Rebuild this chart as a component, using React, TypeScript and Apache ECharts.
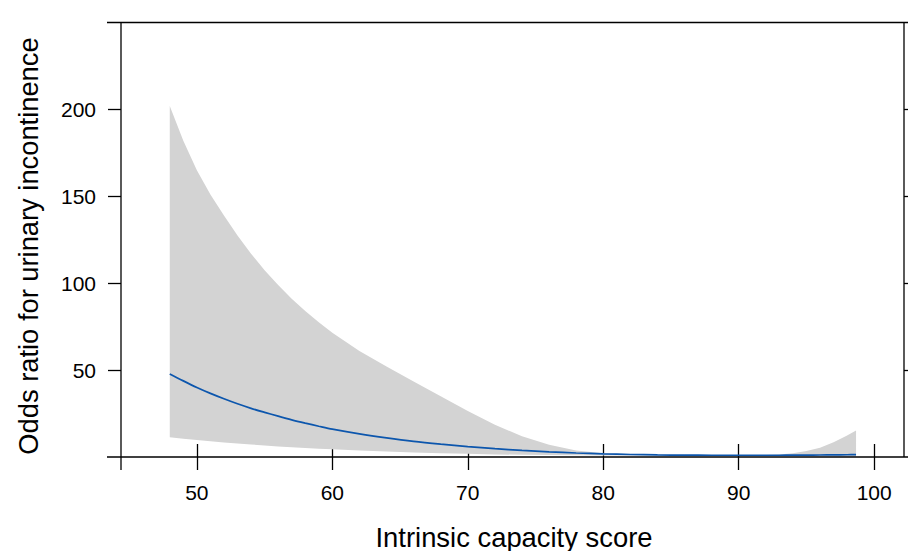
import React, { useEffect, useRef } from "react";
import * as echarts from "echarts";

const xVals = [48, 49, 50, 51, 52, 53, 54, 55, 56, 57, 58, 59, 60, 62, 64, 66, 68, 70, 72, 74, 76, 78, 80, 82, 84, 86, 88, 90, 92, 93, 94, 95, 96, 97, 98, 98.66];
const orVals = [47.8, 43.8, 40, 36.6, 33.5, 30.6, 28, 25.7, 23.5, 21.4, 19.5, 17.7, 16, 13.3, 11, 9, 7.4, 6, 4.8, 3.8, 3.0, 2.3, 1.8, 1.45, 1.2, 1.08, 1.02, 1.0, 1.0, 1.02, 1.05, 1.1, 1.15, 1.22, 1.3, 1.35];
const lowerVals = [11.3, 10.5, 9.8, 9.1, 8.4, 7.8, 7.2, 6.6, 6.1, 5.6, 5.2, 4.8, 4.4, 3.7, 3.1, 2.6, 2.2, 1.8, 1.5, 1.25, 1.1, 0.95, 0.9, 0.88, 0.9, 0.93, 0.97, 1.0, 0.9, 0.8, 0.6, 0.45, 0.3, 0.22, 0.15, 0.12];
const upperVals = [202, 182, 165, 151, 139, 127.5, 117, 107.5, 99, 91, 84, 77.5, 71.5, 61, 52, 43.5, 35, 26.5, 18.5, 12, 7, 3.7, 2.2, 1.7, 1.35, 1.15, 1.05, 1.0, 1.2, 1.5, 2.2, 3.4, 5.3, 8.5, 12.3, 15.2];

const xTicks = [50, 60, 70, 80, 90, 100];
const yTicks = [50, 100, 150, 200];

const xTitle = "Intrinsic capacity score";
const yTitle = "Odds ratio for urinary incontinence";

export default function App() {
  const ref = useRef<HTMLDivElement>(null);
  useEffect(() => {
    if (!ref.current) return;
    const chart = echarts.init(ref.current, null, { renderer: "svg" });
    const L = 121, R = 904, T = 22.5, B = 457;
    const lineStyle = { stroke: "#000", lineWidth: 1.3 };
    const font = "Liberation Sans, Arial, sans-serif";
    const tickCommon = {
      show: true,
      length: 13,
      inside: false,
      lineStyle: { color: "#000", width: 1.3 },
    };
    chart.setOption({
      animation: false,
      backgroundColor: "#fff",
      grid: { left: L, right: 908 - R, top: T, bottom: 551 - B, containLabel: false },
      xAxis: [
        {
          type: "value",
          min: 44.4,
          max: 102.2,
          position: "bottom",
          axisLine: { show: false },
          splitLine: { show: false },
          axisTick: { ...tickCommon, customValues: xTicks },
          axisLabel: {
            customValues: xTicks,
            margin: 25,
            fontSize: 21,
            color: "#000",
            fontFamily: font,
          },
        },
        {
          type: "value",
          min: 44.4,
          max: 102.2,
          position: "top",
          axisLine: { show: false },
          splitLine: { show: false },
          axisTick: { ...tickCommon, customValues: xTicks },
          axisLabel: { show: false },
        },
      ],
      yAxis: [
        {
          type: "value",
          min: 0,
          max: 250,
          position: "left",
          axisLine: { show: false },
          splitLine: { show: false },
          axisTick: { ...tickCommon, customValues: yTicks },
          axisLabel: {
            customValues: yTicks,
            margin: 25,
            fontSize: 21,
            color: "#000",
            fontFamily: font,
          },
        },
        {
          type: "value",
          min: 0,
          max: 250,
          position: "right",
          axisLine: { show: false },
          splitLine: { show: false },
          axisTick: { ...tickCommon, customValues: yTicks },
          axisLabel: { show: false },
        },
      ],
      series: [
        {
          type: "custom",
          name: "band",
          xAxisIndex: 0,
          yAxisIndex: 0,
          data: xVals.map((x, i) => [x, lowerVals[i], upperVals[i]]),
          encode: { x: 0, y: [1, 2] },
          renderItem: (params: any, api: any) => {
            if (params.dataIndex !== 0) return null;
            const up = xVals.map((x, i) => api.coord([x, upperVals[i]]));
            const lo = xVals.map((x, i) => api.coord([x, lowerVals[i]])).reverse();
            return {
              type: "polygon",
              shape: { points: up.concat(lo) },
              style: { fill: "#d3d3d3", stroke: "none" },
            };
          },
          z: 1,
        },
        {
          type: "line",
          name: "OR",
          symbol: "none",
          smooth: 0.3,
          lineStyle: { color: "#0c56ad", width: 1.7 },
          data: xVals.map((x, i) => [x, orVals[i]]),
          z: 3,
        },
      ],
      graphic: [
        { type: "line", shape: { x1: 107, y1: T, x2: 908, y2: T }, style: lineStyle, z: 10 },
        { type: "line", shape: { x1: 107, y1: B, x2: 908, y2: B }, style: lineStyle, z: 10 },
        { type: "line", shape: { x1: L, y1: T, x2: L, y2: 470 }, style: lineStyle, z: 10 },
        { type: "line", shape: { x1: R, y1: T, x2: R, y2: B }, style: lineStyle, z: 10 },
        {
          type: "text",
          x: 514,
          y: 537,
          style: {
            text: xTitle,
            fontSize: 27.4,
            fontFamily: font,
            fill: "#000",
            align: "center",
            verticalAlign: "middle",
          },
        },
        {
          type: "text",
          x: 28,
          y: 246,
          rotation: Math.PI / 2,
          style: {
            text: yTitle,
            fontSize: 27.3,
            fontFamily: font,
            fill: "#000",
            align: "center",
            verticalAlign: "middle",
          },
        },
      ],
    });
    return () => chart.dispose();
  }, []);
  return <div ref={ref} style={{ width: 908, height: 551, position: "absolute", left: 0, top: 0 }} />;
}
